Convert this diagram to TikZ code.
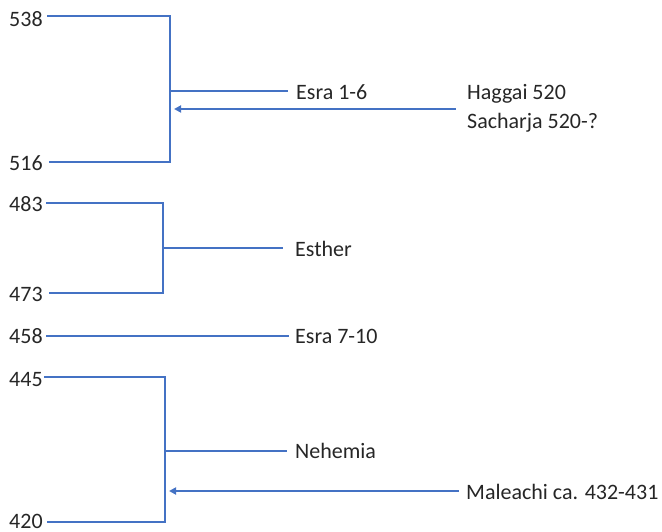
\documentclass[tikz,border=0pt]{standalone}
\usepackage{fontspec}
\setmainfont{Carlito}
\usetikzlibrary{arrows.meta}
\definecolor{lineblue}{HTML}{4472C4}
\definecolor{textgray}{HTML}{262626}
\tikzset{
  link/.style={draw=lineblue, line width=1.8pt},
  pointer/.style={link, {Triangle[length=7pt,width=7pt]}-},
  year/.style={anchor=base west, inner sep=0pt, font=\fontsize{22}{26}\selectfont, text=textgray},
  book/.style={anchor=base west, inner sep=0pt, font=\fontsize{22}{26}\selectfont, text=textgray},
}
\begin{document}
\begin{tikzpicture}[x=1pt,y=-1pt]
\useasboundingbox (0,0) rectangle (662,532);

% years
\node[year] (y538) at (9,27) {538};
\node[year] (y516) at (9,171) {516};
\node[year] (y483) at (9,212) {483};
\node[year] (y473) at (9,301) {473};
\node[year] (y458) at (9,343) {458};
\node[year] (y445) at (9,386) {445};
\node[year] (y420) at (9,528) {420};

% books
\node[book] (esra1) at (296,100) {Esra 1-6};
\node[book] (haggai) at (467,100) {Haggai 520};
\node[book] (sach) at (467,129) {Sacharja 520-?};
\node[book] (esther) at (295,256) {Esther};
\node[book] (esra7) at (295,343) {Esra 7-10};
\node[book] (neh) at (295,458) {Nehemia};
\node[book] (mal) at (466,499) {Maleachi ca. 432-431};

% bracket points
\coordinate (a1) at (47,16);  \coordinate (a2) at (170,16);
\coordinate (a3) at (170,162); \coordinate (a4) at (49,162);
\coordinate (am) at (170,91); \coordinate (ae) at (288,91);
\coordinate (at) at (174,109); \coordinate (as) at (456,109);

\coordinate (b1) at (46,203);  \coordinate (b2) at (163,203);
\coordinate (b3) at (163,293); \coordinate (b4) at (49,293);
\coordinate (bm) at (163,248); \coordinate (be) at (283,248);

\coordinate (c1) at (46,336); \coordinate (c2) at (289,336);

\coordinate (d1) at (44,377);  \coordinate (d2) at (165,377);
\coordinate (d3) at (165,522); \coordinate (d4) at (47,522);
\coordinate (dm) at (165,451); \coordinate (de) at (287,451);
\coordinate (dt) at (169,491); \coordinate (ds) at (459,491);

\draw[link] (a1) -- (a2) -- (a3) -- (a4);
\draw[link] (am) -- (ae);
\draw[pointer] (at) -- (as);

\draw[link] (b1) -- (b2) -- (b3) -- (b4);
\draw[link] (bm) -- (be);

\draw[link] (c1) -- (c2);

\draw[link] (d1) -- (d2) -- (d3) -- (d4);
\draw[link] (dm) -- (de);
\draw[pointer] (dt) -- (ds);
\end{tikzpicture}
\end{document}
